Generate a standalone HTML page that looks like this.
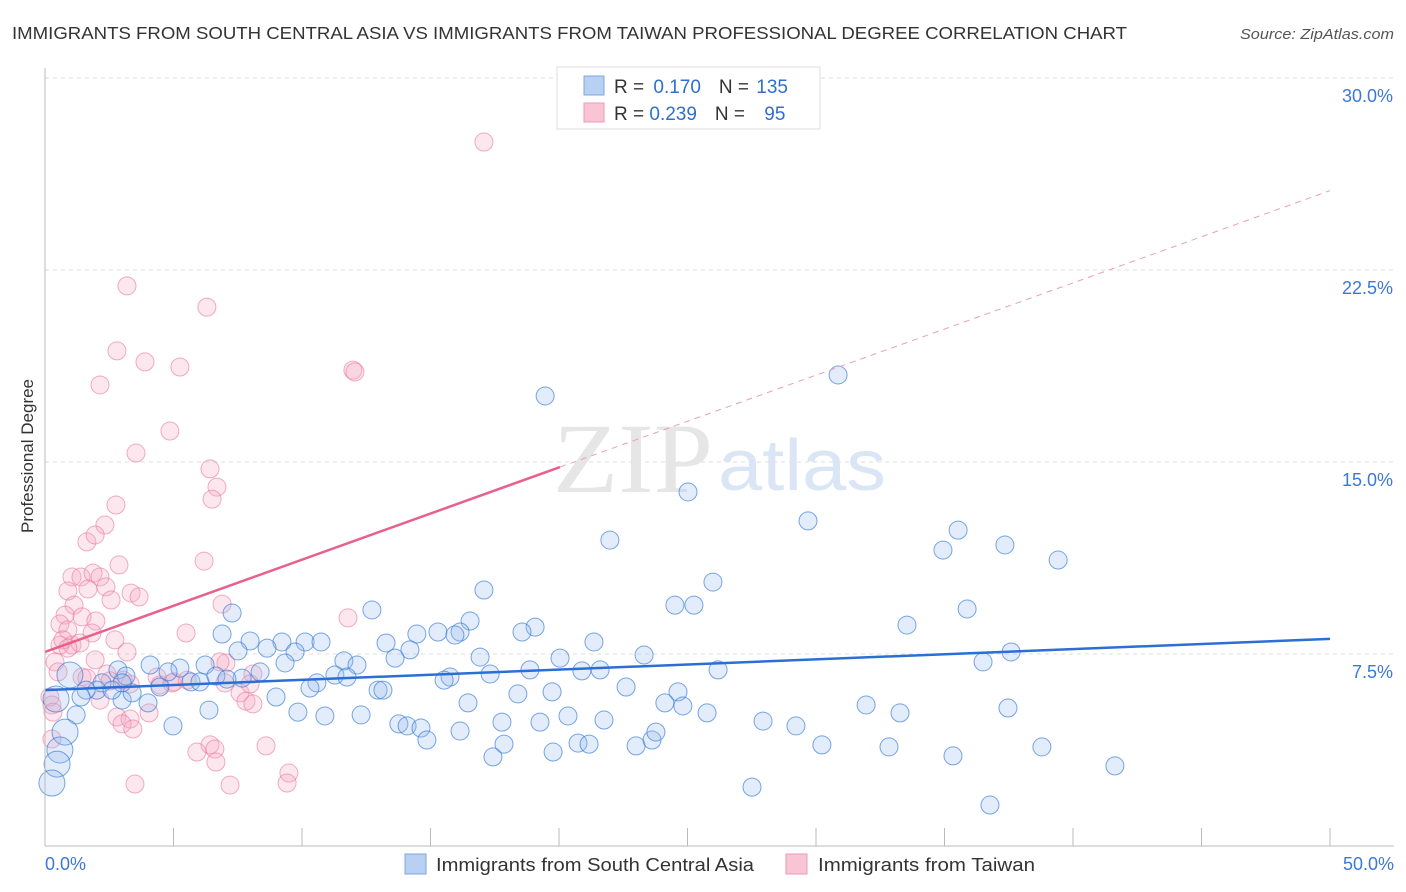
<!DOCTYPE html>
<html><head><meta charset="utf-8"><style>
body{margin:0;background:#fff;font-family:"Liberation Sans",sans-serif;}
svg{display:block}
</style></head><body>
<svg id="chart" width="1406" height="892" xmlns="http://www.w3.org/2000/svg">
<text x="12" y="39" font-size="17.5" fill="#333" textLength="1115" lengthAdjust="spacingAndGlyphs">IMMIGRANTS FROM SOUTH CENTRAL ASIA VS IMMIGRANTS FROM TAIWAN PROFESSIONAL DEGREE CORRELATION CHART</text>
<text x="1240" y="39" font-size="15" fill="#555" font-style="italic" textLength="154" lengthAdjust="spacingAndGlyphs">Source: ZipAtlas.com</text>
<text x="33" y="456" font-size="17" fill="#333" text-anchor="middle" transform="rotate(-90 33 456)">Professional Degree</text>
<g id="grid"></g>
<text x="553" y="492" font-size="100" fill="#e6e6e6" font-family="Liberation Serif,serif" textLength="160" lengthAdjust="spacingAndGlyphs">ZIP</text>
<text x="718" y="490" font-size="72" fill="#dae6f5" textLength="168" lengthAdjust="spacingAndGlyphs">atlas</text>
<g id="pts"></g>
<g id="trend"></g>
<g id="axes"></g>
<g>
<rect x="557" y="67" width="263" height="62" fill="#fff" stroke="#ddd"/>
<rect x="584" y="76" width="20" height="19" fill="#b8d1f3" stroke="#7ea7e0"/>
<rect x="584" y="103" width="20" height="19" fill="#f9c5d5" stroke="#ec9ab3"/>
<text x="614" y="93" font-size="19" fill="#333">R = <tspan fill="#2f6fd0" dx="4">0.170</tspan><tspan dx="18" fill="#333">N = </tspan><tspan fill="#2f6fd0" dx="2">135</tspan></text>
<text x="614" y="120" font-size="19" fill="#333">R = <tspan fill="#2f6fd0">0.239</tspan><tspan dx="18" fill="#333">N = </tspan><tspan fill="#2f6fd0" dx="14">95</tspan></text>
</g>
<g>
<rect x="405" y="854" width="21" height="20" fill="#b8d1f3" stroke="#7ea7e0"/>
<text x="436" y="871" font-size="18" fill="#333" textLength="318" lengthAdjust="spacingAndGlyphs">Immigrants from South Central Asia</text>
<rect x="786" y="854" width="21" height="20" fill="#f9c5d5" stroke="#ec9ab3"/>
<text x="818" y="871" font-size="18" fill="#333" textLength="217" lengthAdjust="spacingAndGlyphs">Immigrants from Taiwan</text>
</g>
</svg>
<script>
const blueX=[19.46,30.86,25.02,29.69,21.98,35.53,34.94,37.35,39.42,25.99,17.08,24.51,25.25,35.88,12.72,7.28,33.54,16.54,19.07,18.56,16.15,15.29,14.47,15.95,21.36,13.27,14.20,6.89,7.98,9.22,10.12,10.74,8.64,9.73,7.51,37.59,23.31,16.93,20.04,11.63,12.14,13.62,36.50,6.23,9.34,4.09,5.25,4.79,2.84,17.32,18.87,20.89,26.19,21.60,8.37,11.28,11.75,15.76,15.53,3.15,6.65,7.67,7.08,5.68,6.03,2.22,10.58,4.47,10.31,12.96,13.15,22.61,2.02,1.60,8.99,18.40,19.73,24.63,0.43,1.40,24.12,24.82,16.46,31.95,4.01,3.00,6.38,9.84,10.89,12.30,20.35,19.26,21.75,25.76,33.27,37.47,1.21,4.98,13.77,14.09,14.63,17.78,27.94,29.22,16.15,14.86,0.78,20.74,21.17,17.86,19.77,23.00,23.62,23.77,30.23,32.84,38.79,17.43,35.33,41.63,27.51,36.77,0.58,0.47,0.27,0.97,3.39,3.00,2.61];
const blueY=[17.58,18.40,13.83,12.70,11.95,12.34,11.56,11.76,11.17,10.31,10.0,9.41,9.41,9.26,9.22,9.10,8.63,8.79,8.55,8.36,8.36,8.36,8.28,8.24,7.97,7.93,7.66,8.28,8.01,7.97,7.97,7.97,7.73,7.58,7.62,7.58,7.46,7.38,7.34,7.23,7.07,7.34,7.19,7.07,7.15,7.07,6.95,6.80,6.88,6.72,6.88,6.84,6.88,6.88,6.80,6.68,6.60,6.60,6.48,6.64,6.64,6.56,6.52,6.41,6.41,6.37,6.37,6.21,6.17,6.09,6.09,6.21,6.09,6.09,5.82,5.94,6.02,6.02,5.74,5.82,5.59,5.47,5.59,5.51,5.59,5.70,5.31,5.23,5.08,5.12,5.08,4.84,4.92,5.20,5.20,5.39,5.12,4.69,4.77,4.69,4.61,4.84,4.88,4.69,4.49,4.14,4.45,4.02,3.98,3.98,3.67,3.91,4.14,4.45,3.95,3.87,3.87,3.48,3.52,3.13,2.30,1.60,3.75,3.20,2.46,6.68,5.98,6.37,6.09];
const pinkX=[17.08,3.19,6.30,2.80,3.89,5.25,11.98,12.06,2.14,4.86,3.54,6.42,6.69,6.50,2.76,2.33,1.63,1.95,6.19,2.88,1.05,1.40,1.87,2.14,0.89,1.67,3.35,2.37,3.66,2.57,1.13,1.44,6.89,11.79,0.78,1.98,0.58,0.89,1.83,2.72,1.05,0.58,1.36,0.70,0.89,5.49,3.19,7.04,6.81,1.95,0.39,0.51,8.09,2.41,7.59,1.44,1.63,2.53,3.31,3.04,4.36,4.47,4.94,7.98,5.02,7.82,8.09,5.53,2.14,7.00,0.19,0.27,0.31,4.05,2.80,3.31,3.00,3.42,6.42,6.61,5.91,6.65,8.60,9.49,9.42,3.50,7.20,0.27];
const pinkY=[27.50,21.88,21.05,19.34,18.91,18.71,18.59,18.52,18.01,16.21,15.35,14.73,14.02,13.55,13.32,12.54,11.88,12.15,11.13,10.98,10.51,10.51,10.66,10.51,9.96,10.04,9.88,10.12,9.73,9.61,9.41,8.95,9.45,8.91,9.02,8.79,8.67,8.44,8.32,8.05,7.85,7.85,7.93,8.05,7.73,8.32,7.58,7.15,7.19,7.27,7.19,6.80,6.72,6.72,5.98,6.60,6.56,6.45,6.33,6.48,6.60,6.29,6.37,6.33,6.41,5.66,5.55,6.48,5.70,6.37,5.82,5.51,5.23,5.20,5.04,4.96,4.77,4.57,3.95,3.79,3.67,3.28,3.91,2.85,2.46,2.42,2.38,4.18];
const yTicks=[7.5,15,22.5,30];
const yTickLabels=["7.5%","15.0%","22.5%","30.0%"];
const xTicks=[0,5,10,15,20,25,30,35,40,45,50];
const blueTrend=[6.09,8.09];
const pinkTrend=[7.58,25.6];
const pinkSolidEnd=20.04;

const NS="http://www.w3.org/2000/svg";
const X0=45,X1=1330,Y0=846,Y30=78;
const sx=v=>X0+(X1-X0)*v/50;
const sy=v=>Y0-(Y0-Y30)*v/30;
function mk(tag,attrs,parent){const e=document.createElementNS(NS,tag);for(const k in attrs)e.setAttribute(k,attrs[k]);parent.appendChild(e);return e;}
const grid=document.getElementById('grid'),axes=document.getElementById('axes');
yTicks.forEach((t,i)=>{
 const l=mk('line',{x1:X0,x2:1394,y1:sy(t),y2:sy(t),stroke:'#ddd','stroke-dasharray':'4,4'},grid);
 
 
 const tx=mk('text',{x:1393,y:sy(t)+24,'font-size':18,fill:'#3b78d8','text-anchor':'end'},axes);
 tx.textContent=yTickLabels[i];
 
 
});
const ax=mk('line',{x1:X0,x2:1394,y1:Y0,y2:Y0,stroke:'#bbb'},axes);


const ay=mk('line',{x1:X0,x2:X0,y1:68,y2:Y0,stroke:'#bbb'},axes);


xTicks.forEach(t=>{
 const l=mk('line',{x1:sx(t),x2:sx(t),y1:Y0,y2:Y0-18,stroke:'#bbb'},axes);
 
 
});
const xl=mk('text',{x:45,y:870,'font-size':18,fill:'#3b78d8'},axes);xl.textContent='0.0%';


const xr=mk('text',{x:1394,y:870,'font-size':18,fill:'#3b78d8','text-anchor':'end'},axes);xr.textContent='50.0%';


const pts=document.getElementById('pts');
pinkX.forEach((x,i)=>{
 const c=mk('circle',{cx:sx(x),cy:sy(pinkY[i]),r:9,fill:'rgba(245,170,195,0.28)',stroke:'rgba(232,120,155,0.6)','stroke-width':1},pts);
 
 
});
blueX.forEach((x,i)=>{
 const r=x<1?13:9;
 const c=mk('circle',{cx:sx(x),cy:sy(blueY[i]),r:r,fill:'rgba(150,188,238,0.28)',stroke:'rgba(50,120,215,0.65)','stroke-width':1},pts);
 
 
});
const tr=document.getElementById('trend');
const bl=mk('line',{x1:sx(0),y1:sy(blueTrend[0]),x2:sx(50),y2:sy(blueTrend[1]),stroke:'#2a6fd6','stroke-width':2.5},tr);


const pAt=x=>pinkTrend[0]+(pinkTrend[1]-pinkTrend[0])*x/50;
const ps=mk('line',{x1:sx(0),y1:sy(pAt(0)),x2:sx(pinkSolidEnd),y2:sy(pAt(pinkSolidEnd)),stroke:'#e8608c','stroke-width':2.5},tr);


const pd=mk('line',{x1:sx(pinkSolidEnd),y1:sy(pAt(pinkSolidEnd)),x2:sx(50),y2:sy(pAt(50)),stroke:'#e8a0b8','stroke-width':1,'stroke-dasharray':'6,5'},tr);


</script>
</body></html>
